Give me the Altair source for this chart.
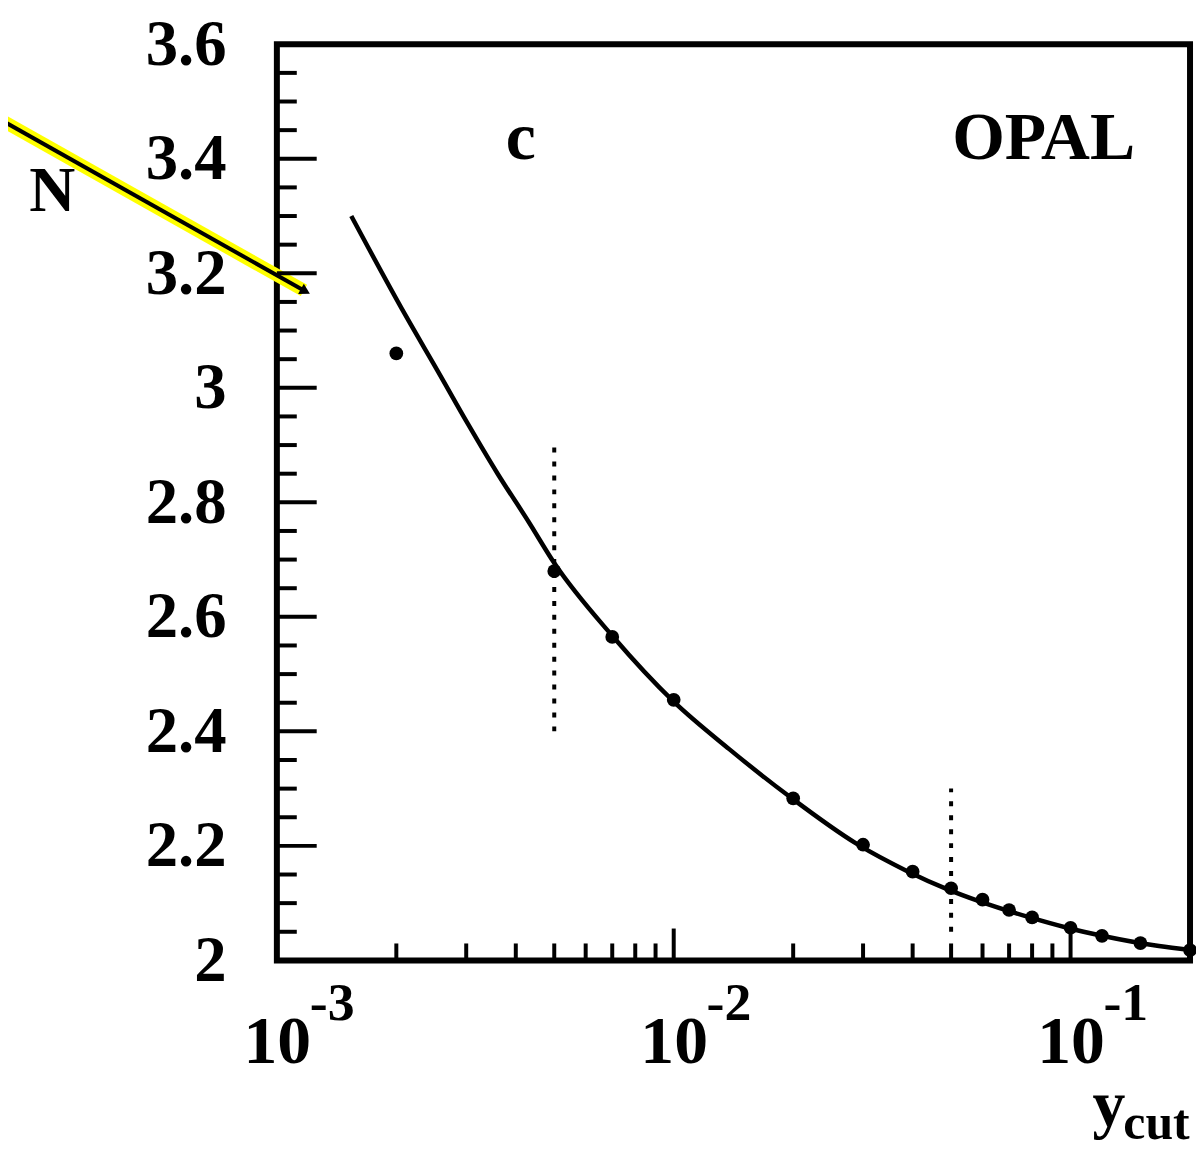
import altair as alt
import pandas as pd

# ---------------- data ----------------
curve_x = [0.00154, 0.0021, 0.00255, 0.00303, 0.0036, 0.0043, 0.005, 0.007, 0.01,
           0.0138, 0.0195, 0.029, 0.039, 0.049, 0.059, 0.079, 0.098, 0.12, 0.167, 0.2]
curve_y = [3.30, 3.129, 3.028, 2.937, 2.85, 2.767, 2.694, 2.567, 2.452,
           2.369, 2.287, 2.203, 2.155, 2.124, 2.103, 2.075, 2.057, 2.043, 2.025, 2.018]

pts_x = [0.002, 0.005, 0.007, 0.01, 0.02, 0.03, 0.04, 0.05, 0.06, 0.07, 0.08,
         0.1, 0.12, 0.15, 0.2]
pts_y = [3.06, 2.68, 2.565, 2.455, 2.283, 2.202, 2.155, 2.126, 2.106, 2.088,
         2.075, 2.057, 2.043, 2.03, 2.018]

err_x = [0.005, 0.05]
err_lo = [2.40, 2.05]
err_hi = [2.90, 2.30]

y_label_values = [2.0, 2.2, 2.4, 2.6, 2.8, 3.0, 3.2, 3.4, 3.6]
y_major_ticks = [2.2, 2.4, 2.6, 2.8, 3.0, 3.2, 3.4]
y_minor_ticks = [2.05, 2.1, 2.15, 2.25, 2.3, 2.35, 2.45, 2.5, 2.55, 2.65, 2.7,
                 2.75, 2.85, 2.9, 2.95, 3.05, 3.1, 3.15, 3.25, 3.3, 3.35, 3.45,
                 3.5, 3.55]
x_label_values = [0.001, 0.01, 0.1]
x_exponents = ["-3", "-2", "-1"]
x_major_ticks = [0.01, 0.1]
x_minor_ticks = [0.002, 0.003, 0.004, 0.005, 0.006, 0.007, 0.008, 0.009,
                 0.02, 0.03, 0.04, 0.05, 0.06, 0.07, 0.08, 0.09]

arrow_x = [0.00019, 0.00117]
arrow_y = [3.478, 3.170]

# ---------------- styling ----------------
W, H = 917, 920
FONT = "Liberation Serif"

xscale = alt.Scale(type="log", domain=[0.001, 0.2], nice=False)
yscale = alt.Scale(domain=[2.0, 3.6], nice=False, zero=False)

xaxis = alt.Axis(values=x_label_values, labelExpr="'10'", labelFont=FONT,
                 labelFontSize=68, labelFontWeight="bold", labelColor="black",
                 ticks=False, domain=False, grid=False, labelPadding=49,
                 labelFlush=False, labelOverlap=False, title=None)
yaxis = alt.Axis(values=y_label_values, format="~g", labelFont=FONT,
                 labelFontSize=65, labelFontWeight="bold", labelColor="black",
                 ticks=False, domain=False, grid=False, labelPadding=51,
                 labelFlush=False, labelOverlap=False,
                 title="N", titleAngle=0, titleX=-226, titleY=148,
                 titleAlign="center", titleBaseline="middle", titleFont=FONT,
                 titleFontSize=64, titleFontWeight="bold", titleColor="black")

X = lambda f="x": alt.X(f"{f}:Q", scale=xscale, axis=xaxis)
Y = lambda f="y": alt.Y(f"{f}:Q", scale=yscale, axis=yaxis)

curve_df = pd.DataFrame({"x": curve_x, "y": curve_y})
pts_df = pd.DataFrame({"x": pts_x, "y": pts_y})
err_df = pd.DataFrame({"x": err_x, "y": err_lo, "y2": err_hi})
arrow_df = pd.DataFrame({"x": arrow_x, "y": arrow_y, "o": [0, 1]})
tip_df = pd.DataFrame({"x": arrow_x[1:], "y": arrow_y[1:]})

arrow_yellow = alt.Chart(arrow_df).mark_line(color="#ffff00", strokeWidth=13, clip=False, strokeCap="butt").encode(
    x=X(), y=Y(), order="o:Q")
arrow_black = alt.Chart(arrow_df).mark_line(color="black", strokeWidth=4, clip=False).encode(
    x=X(), y=Y(), order="o:Q")
arrow_head = alt.Chart(tip_df).mark_point(shape="triangle", filled=True, color="black",
                                          angle=119, size=140, opacity=1, clip=False).encode(x=X(), y=Y())

curve = alt.Chart(curve_df).mark_line(color="black", strokeWidth=4.5, interpolate="monotone").encode(
    x=X(), y=Y())
dots = alt.Chart(pts_df).mark_circle(color="black", size=190, opacity=1).encode(x=X(), y=Y())
errs = alt.Chart(err_df).mark_rule(color="black", strokeWidth=4, strokeDash=[5, 9]).encode(
    x=X(), y=Y(), y2="y2:Q")

ymin = alt.Chart(pd.DataFrame({"y": y_minor_ticks})).mark_rule(color="black", strokeWidth=4).encode(
    y=Y(), x=alt.value(0), x2=alt.value(20))
ymaj = alt.Chart(pd.DataFrame({"y": y_major_ticks})).mark_rule(color="black", strokeWidth=4).encode(
    y=Y(), x=alt.value(0), x2=alt.value(40))
xmin = alt.Chart(pd.DataFrame({"x": x_minor_ticks})).mark_rule(color="black", strokeWidth=4).encode(
    x=X(), y=alt.value(H), y2=alt.value(H - 17))
xmaj = alt.Chart(pd.DataFrame({"x": x_major_ticks})).mark_rule(color="black", strokeWidth=4).encode(
    x=X(), y=alt.value(H), y2=alt.value(H - 32))

expo = alt.Chart(pd.DataFrame({"x": x_label_values, "t": x_exponents})).mark_text(
    font=FONT, fontSize=54, fontWeight="bold", color="black", align="left",
    baseline="alphabetic", dx=33).encode(x=X(), y=alt.value(H + 60), text="t:N")

def label(txt, px, py, size, align="center"):
    return alt.Chart(pd.DataFrame({"t": [txt]})).mark_text(
        font=FONT, fontSize=size, fontWeight="bold", color="black", align=align,
        baseline="alphabetic").encode(x=alt.value(px), y=alt.value(py), text="t:N")

txt_c = label("c", 245, 115, 68)
txt_opal = label("OPAL", 770, 115, 68)
txt_y = label("y", 819, 1086, 66, "left")
txt_cut = label("cut", 850, 1099, 50, "left")

chart = alt.layer(
    arrow_yellow, arrow_black, arrow_head,
    ymin, ymaj, xmin, xmaj,
    errs, curve, dots,
    expo, txt_c, txt_opal, txt_y, txt_cut,
).properties(
    width=W, height=H,
    padding={"left": 270, "top": 34, "right": 6, "bottom": 190},
    autosize=alt.AutoSizeParams(type="none"),
).configure_view(stroke="black", strokeWidth=6)

chart.save("out.html", embed_options={"renderer": "svg", "actions": False})
